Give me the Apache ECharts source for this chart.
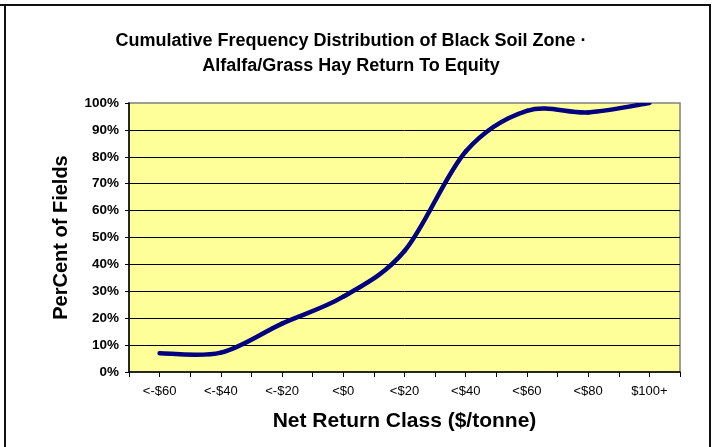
<!DOCTYPE html>
<html>
<head>
<meta charset="utf-8">
<script src="https://cdn.jsdelivr.net/npm/echarts@6/dist/echarts.min.js"></script>
<style>
html,body{margin:0;padding:0;background:#fff;}
#chart{width:718px;height:447px;}
</style>
</head>
<body>
<div id="chart"></div>
<script>
const categories = ['<-$60', '<-$40', '<-$20', '<$0', '<$20', '<$40', '<$60', '<$80', '$100+'];
const percentOfFields = [7, 7.2, 18, 28, 45, 82, 97.1, 96.5, 100];
const yTickValues = [0, 10, 20, 30, 40, 50, 60, 70, 80, 90, 100];

const chart = echarts.init(document.getElementById('chart'), null, {renderer: 'canvas'});
const font = 'Arial, "Liberation Sans", sans-serif';

// Excel-style smoothed line: one cubic Bezier per segment, control points from neighbours,
// all positions obtained through the axes via api.coord.
function renderSmoothSegment(params, api) {
  const i = params.dataIndexInside;
  const n = params.dataInsideLength;
  if (i >= n - 1) return null;
  const pt = j => api.coord([api.value(0, j), api.value(1, j)]);
  const p1 = pt(i);
  const p2 = pt(i + 1);
  const p0 = i > 0 ? pt(i - 1) : p1;
  const p3 = i + 2 < n ? pt(i + 2) : p2;
  return {
    type: 'bezierCurve',
    shape: {
      x1: p1[0], y1: p1[1],
      x2: p2[0], y2: p2[1],
      cpx1: p1[0] + (p2[0] - p0[0]) / 6,
      cpy1: p1[1] + (p2[1] - p0[1]) / 6,
      cpx2: p2[0] - (p3[0] - p1[0]) / 6,
      cpy2: p2[1] - (p3[1] - p1[1]) / 6
    },
    style: {stroke: '#000080', lineWidth: 4.5, fill: null, lineCap: 'round'}
  };
}

chart.setOption({
  backgroundColor: '#ffffff',
  animation: false,
  title: {
    text: 'Cumulative Frequency Distribution of Black Soil Zone ·\nAlfalfa/Grass Hay Return To Equity',
    left: 346,
    top: 24,
    textAlign: 'center',
    textStyle: {
      fontFamily: font,
      fontWeight: 'bold',
      fontSize: 18,
      lineHeight: 24.5,
      color: '#000'
    }
  },
  graphic: [
    {type: 'line', shape: {x1: 0, y1: 5, x2: 711, y2: 5}, style: {stroke: '#111', lineWidth: 2}},
    {type: 'line', shape: {x1: 5, y1: 5, x2: 5, y2: 460}, style: {stroke: '#111', lineWidth: 2}},
    {type: 'line', shape: {x1: 710, y1: 5, x2: 710, y2: 460}, style: {stroke: '#111', lineWidth: 2}}
  ],
  grid: {
    left: 129,
    top: 103,
    width: 551,
    height: 269,
    show: true,
    backgroundColor: '#FFFF99',
    borderColor: '#808080',
    borderWidth: 1.5
  },
  xAxis: [
    {
      type: 'category',
      data: categories,
      boundaryGap: true,
      name: 'Net Return Class ($/tonne)',
      nameLocation: 'middle',
      nameGap: 39,
      nameTextStyle: {fontFamily: font, fontWeight: 'bold', fontSize: 21, color: '#000'},
      axisLine: {show: true, lineStyle: {color: '#000', width: 1.5}},
      axisTick: {show: true, interval: 0, alignWithLabel: false, length: 5, lineStyle: {color: '#000', width: 1}},
      axisLabel: {interval: 0, margin: 13, fontFamily: font, fontSize: 13, color: '#000'},
      splitLine: {show: false}
    },
    {
      type: 'category',
      data: categories,
      boundaryGap: true,
      position: 'bottom',
      axisLine: {show: false},
      axisTick: {show: true, interval: 0, alignWithLabel: true, length: 5, lineStyle: {color: '#000', width: 1}},
      axisLabel: {show: false},
      splitLine: {show: false}
    }
  ],
  yAxis: {
    type: 'value',
    min: yTickValues[0],
    max: yTickValues[yTickValues.length - 1],
    interval: 10,
    name: 'PerCent of Fields',
    nameLocation: 'middle',
    nameGap: 58,
    nameTextStyle: {fontFamily: font, fontWeight: 'bold', fontSize: 20, color: '#000'},
    axisLine: {show: true, lineStyle: {color: '#000', width: 1.5}},
    axisTick: {show: true, length: 4, lineStyle: {color: '#000'}},
    axisLabel: {margin: 10, fontFamily: font, fontWeight: 'bold', fontSize: 13.5, color: '#000', formatter: '{value}%'},
    splitLine: {show: true, showMinLine: false, showMaxLine: false, lineStyle: {color: '#000', width: 1}}
  },
  series: [{
    type: 'custom',
    xAxisIndex: 0,
    yAxisIndex: 0,
    renderItem: renderSmoothSegment,
    encode: {x: 0, y: 1},
    data: percentOfFields.map((v, i) => [i, v]),
    clip: true
  }]
});
</script>
</body>
</html>
